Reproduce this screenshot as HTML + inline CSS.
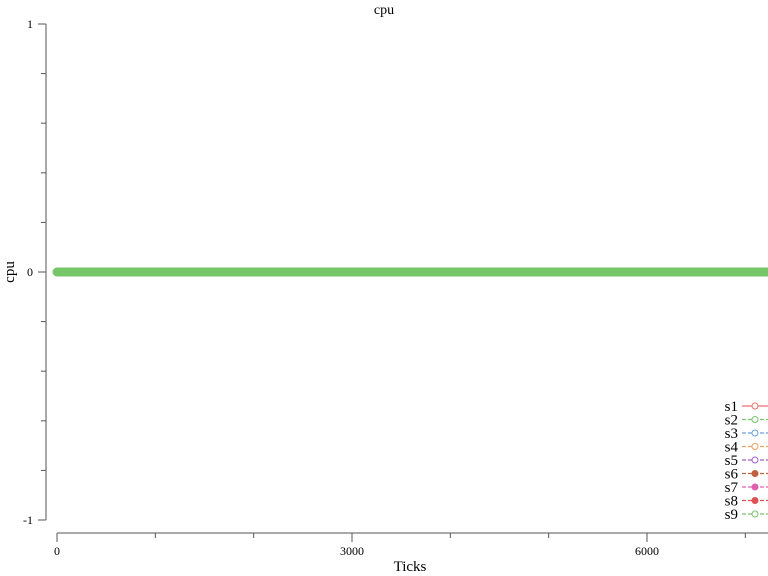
<!DOCTYPE html>
<html><head><meta charset="utf-8"><style>
body{margin:0;background:#fff}
svg{display:block;font-family:"Liberation Serif",serif}
</style></head><body>
<svg id="chart" width="768" height="576" viewBox="0 0 768 576" xmlns="http://www.w3.org/2000/svg">
<text x="384" y="14" text-anchor="middle" font-size="14">cpu</text>
<text transform="translate(14,272) rotate(-90)" text-anchor="middle" font-size="15">cpu</text>
<text x="410" y="571" text-anchor="middle" font-size="15">Ticks</text>
<g id="axes"></g>
<g id="series"></g>
<g id="legend"></g>
</svg>
<script>
const seriesNames = ["s1","s2","s3","s4","s5","s6","s7","s8","s9"];
const seriesColors = ["#f07070","#77c66a","#6aa0e0","#f0a060","#a060c0","#c06040","#e060b0","#e05050","#77c66a"];
const xTicks = [0,1000,2000,3000,4000,5000,6000,7000];
const xTickLabels = ["0","","","3000","","","6000",""];
const yTicks = [-1,-0.8,-0.6,-0.4,-0.2,0,0.2,0.4,0.6,0.8,1];
const yTickLabels = {"-1":"-1","0":"0","1":"1"};
const ticks = [0,500,1000,1500,2000,2500,3000,3500,4000,4500,5000,5500,6000,6500,7000,7250];
const values = [0,0,0,0,0,0,0,0,0,0,0,0,0,0,0,0];

const NS="http://www.w3.org/2000/svg";
const xS = v => 57 + v*(295/3000);
const yS = v => 272 - v*248;
function mk(tag, attrs, parent){const e=document.createElementNS(NS,tag);for(const k in attrs)e.setAttribute(k,attrs[k]);parent.appendChild(e);return e;}
const axes=document.getElementById('axes');
let a=mk('line',{x1:46,y1:yS(1),x2:46,y2:yS(-1),stroke:'#555','stroke-width':1},axes);


a=mk('line',{x1:xS(0),y1:533,x2:768,y2:533,stroke:'#555','stroke-width':1},axes);


yTicks.forEach(t=>{
  const y=yS(t);const lab=yTickLabels[String(t)];
  const tk=lab?mk('line',{x1:38,y1:y,x2:46,y2:y,stroke:'#555'},axes):mk('line',{x1:41,y1:y,x2:46,y2:y,stroke:'#555'},axes);
  
  
  if(lab){const tx=mk('text',{x:33,y:y+4,'text-anchor':'end','font-size':12},axes);tx.textContent=lab;
  
  }
});
xTicks.forEach((t,i)=>{
  const x=xS(t);const lab=xTickLabels[i];
  const tk=lab?mk('line',{x1:x,y1:533,x2:x,y2:542,stroke:'#555'},axes):mk('line',{x1:x,y1:533,x2:x,y2:538,stroke:'#555'},axes);
  
  
  if(lab){const tx=mk('text',{x:x,y:555,'text-anchor':'middle','font-size':12},axes);tx.textContent=lab;
  
  }
});
const sg=document.getElementById('series');
seriesNames.forEach((n,i)=>{
  const pts=ticks.map((t,j)=>xS(t)+','+yS(values[j])).join(' ');
  const last=i===seriesNames.length-1;
  const pl=mk('polyline',{points:pts,fill:'none',stroke:seriesColors[i],'stroke-width':last?9:1,'stroke-linecap':'round','stroke-linejoin':'round'},sg);
  if(i===0){pl.setAttribute('transform','translate(0,-4)');}
  
  
});
const lg=document.getElementById('legend');
seriesNames.forEach((n,i)=>{
  const y=406+i*13.5;
  const t=mk('text',{x:738,y:y+5,'text-anchor':'end','font-size':15},lg);t.textContent=n;
  
  
  const l=mk('line',{x1:742,y1:y,x2:768,y2:y,stroke:seriesColors[i],'stroke-width':1.2,'stroke-dasharray':i===0?'':'4,2'},lg);
  
  
  const m=mk('circle',{cx:755,cy:y,r:3,fill:(i===5||i===6||i===7)?seriesColors[i]:'#fff',stroke:seriesColors[i]},lg);
  
  
});
</script>
</body></html>
